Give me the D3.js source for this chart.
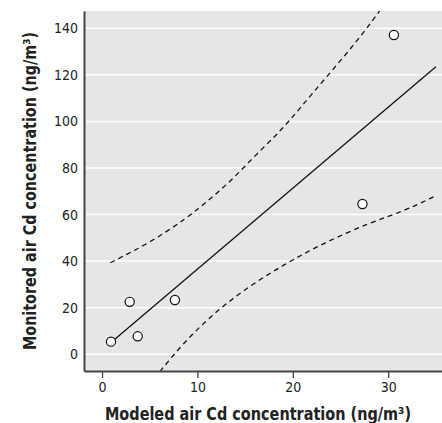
<!DOCTYPE html>
<html>
<head>
<meta charset="utf-8">
<script src="https://cdn.jsdelivr.net/npm/d3@7"></script>
<style>
  body { margin: 0; background: #fff; }
  svg { display: block; }
  .tick text { font-family: "Liberation Sans Narrow", "DejaVu Sans", sans-serif; font-stretch: condensed; font-size: 14px; fill: #222; }
  .title { font-family: "Liberation Sans Narrow", "DejaVu Sans", sans-serif; font-stretch: condensed; font-weight: bold; font-size: 17px; fill: #222; }
</style>
</head>
<body>
<svg width="442" height="423"></svg>
<script>
// points
var modeled   = [0.94, 2.9, 3.74, 7.64, 27.3, 30.6];
var monitored = [5.4, 22.5, 7.7, 23.3, 64.5, 137.1];

// fitted line (end points)
var fitX = [0.94, 35.0];
var fitY = [5.0, 123.5];

// upper / lower dashed bands
var upperX = [0.87, 5.04, 8.87, 11.33, 13.78, 16.22, 18.67, 20.76, 23.55, 26.7, 29.1];
var upperY = [39.3, 47.9, 58.4, 66.6, 75.5, 86.1, 95.6, 105.7, 119.2, 134.2, 147.4];
var lowerX = [6.07, 8.51, 11.34, 14.82, 19.0, 23.2, 28.1, 31.6, 35.0];
var lowerY = [-7.4, 4.7, 16.2, 27.6, 38.4, 47.7, 56.6, 61.3, 68.1];

var xTicks = [0, 10, 20, 30];
var yTicks = [0, 20, 40, 60, 80, 100, 120, 140];

var svg = d3.select("svg"),
    pLeft = 84, pRight = 442, pTop = 11, pBottom = 371;

var x = d3.scaleLinear().domain([-1.89, 35.64]).range([pLeft, pRight]);
var y = d3.scaleLinear().domain([-7.2, 147.4]).range([pBottom, pTop]);

svg.append("clipPath").attr("id", "clip")
  .append("rect").attr("x", pLeft).attr("y", pTop).attr("width", pRight - pLeft).attr("height", pBottom - pTop);

svg.append("rect")
    .attr("x", pLeft).attr("y", pTop)
    .attr("width", pRight - pLeft).attr("height", pBottom - pTop)
    .attr("fill", "#e6e6e7");

// white grid lines
svg.selectAll(".grid").data(yTicks).enter().append("line")
    .attr("class", "grid")
    .attr("x1", pLeft).attr("x2", pRight)
    .attr("y1", function(d) { return y(d); })
    .attr("y2", function(d) { return y(d); })
    .attr("stroke", "#fff").attr("stroke-width", 1.5);

var plot = svg.append("g").attr("clip-path", "url(#clip)");

var line = d3.line()
    .x(function(d) { return x(d[0]); })
    .y(function(d) { return y(d[1]); });

var band = d3.line()
    .x(function(d) { return x(d[0]); })
    .y(function(d) { return y(d[1]); })
    .curve(d3.curveBasis);

plot.append("path")
    .datum(d3.zip(upperX, upperY))
    .attr("d", band)
    .attr("fill", "none").attr("stroke", "#111").attr("stroke-width", 1.3)
    .attr("stroke-dasharray", "5,4");

plot.append("path")
    .datum(d3.zip(lowerX, lowerY))
    .attr("d", band)
    .attr("fill", "none").attr("stroke", "#111").attr("stroke-width", 1.3)
    .attr("stroke-dasharray", "5,4");

plot.append("path")
    .datum(d3.zip(fitX, fitY))
    .attr("d", line)
    .attr("fill", "none").attr("stroke", "#111").attr("stroke-width", 1.3);

plot.selectAll(".dot")
    .data(d3.zip(modeled, monitored))
  .enter().append("circle")
    .attr("class", "dot")
    .attr("r", 4.6)
    .attr("cx", function(d) { return x(d[0]); })
    .attr("cy", function(d) { return y(d[1]); })
    .attr("fill", "#fff").attr("stroke", "#111").attr("stroke-width", 1.2);

// axes
var xAxis = svg.append("g")
    .attr("transform", "translate(0," + pBottom + ")")
    .call(d3.axisBottom(x).tickValues(xTicks).tickSize(7).tickSizeOuter(0).tickPadding(4));
xAxis.select(".domain").attr("stroke", "#444").attr("stroke-width", 2);
xAxis.selectAll(".tick line").attr("stroke", "#444").attr("stroke-width", 1.3);

var yAxis = svg.append("g")
    .attr("transform", "translate(" + pLeft + ",0)")
    .call(d3.axisLeft(y).tickValues(yTicks).tickSize(0).tickSizeOuter(0).tickPadding(6));
yAxis.select(".domain").attr("stroke", "#444").attr("stroke-width", 2);

// titles, squeezed to the width they take in the figure
function title(t, label, len) {
  t.text(label + " (ng/m\u00b3)");
  var w = t.node().getComputedTextLength();
  if (w > len) t.attr("textLength", len).attr("lengthAdjust", "spacingAndGlyphs");
}

var xt = svg.append("text").attr("class", "title")
    .attr("x", 258).attr("y", 420).attr("text-anchor", "middle");
title(xt, "Modeled air Cd concentration", 306);

var yt = svg.append("text").attr("class", "title")
    .attr("transform", "translate(36,191) rotate(-90)")
    .attr("text-anchor", "middle");
title(yt, "Monitored air Cd concentration", 318);
</script>
</body>
</html>
